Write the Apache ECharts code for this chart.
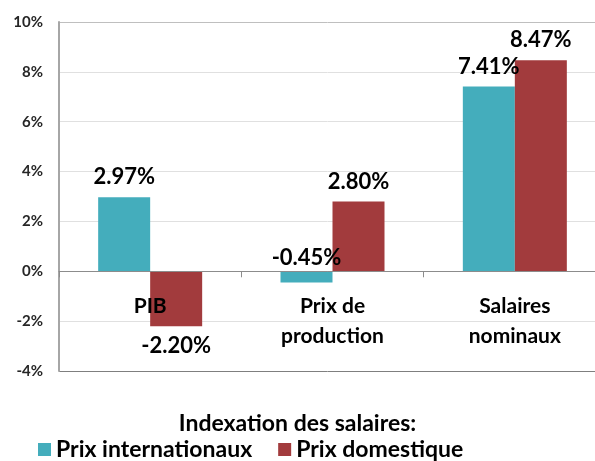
<!DOCTYPE html>
<html>
<head>
<meta charset="utf-8">
<script src="https://cdn.jsdelivr.net/npm/echarts@6/dist/echarts.min.js"></script>
<style>
  html, body { margin: 0; padding: 0; background: #fff; }
  #chart { width: 595px; height: 461px; }
</style>
</head>
<body>
<div id="chart"></div>
<script>
var categories = ['PIB', 'Prix de\nproduction', 'Salaires\nnominaux']
var seriesNames = ['Prix internationaux', 'Prix domestique']
var internationaux = [2.97, -0.45, 7.41]
var domestique = [-2.2, 2.8, 8.47]
var yTicks = [-4, -2, 0, 2, 4, 6, 8, 10]

var font = 'Lato, "Noto Sans", sans-serif'

// labels: big negatives go under the bar, small ones sit just above the zero line
function labelled(values) {
  return values.map(function (v) {
    if (v < -1) return { value: v, label: { position: 'bottom' } }
    if (v < 0) return { value: v, label: { position: 'top', distance: 2 } }
    return v
  })
}

var chart = echarts.init(document.getElementById('chart'))
chart.setOption({
  animation: false,
  color: ['#44ADBC', '#A23B3D'],
  textStyle: { fontFamily: font },
  title: {
    text: 'Indexation des salaires:',
    left: 'center',
    top: 407,
    textStyle: { fontFamily: font, fontSize: 23, fontWeight: 'bold', color: '#000' }
  },
  legend: {
    data: seriesNames,
    left: 33,
    top: 433,
    itemWidth: 13,
    itemHeight: 13,
    itemGap: 26,
    icon: 'rect',
    textStyle: { fontFamily: font, fontSize: 23, fontWeight: 'bold', color: '#000' }
  },
  grid: { left: 59, top: 22, width: 547, height: 349, outerBoundsMode: 'none' },
  xAxis: {
    type: 'category',
    data: categories,
    z: 10,
    axisLine: { onZero: true, lineStyle: { color: '#8c8c8c' } },
    axisTick: { show: true, length: 6, lineStyle: { color: '#8c8c8c' } },
    axisLabel: {
      margin: -80,
      fontFamily: font,
      fontSize: 21,
      fontWeight: 'bold',
      color: '#000',
      lineHeight: 30
    }
  },
  yAxis: {
    type: 'value',
    min: yTicks[0],
    max: yTicks[yTicks.length - 1],
    interval: 2,
    axisLine: { show: true, lineStyle: { color: '#a6a6a6', width: 2 } },
    axisTick: { show: false },
    axisLabel: {
      margin: 16,
      fontFamily: font,
      fontSize: 15,
      fontWeight: 'bold',
      color: '#262626',
      formatter: function (v) { return v + '%' }
    },
    splitLine: {
      lineStyle: {
        color: ['#7f7f7f', '#e0e0e0', '#e0e0e0', '#e0e0e0', '#e0e0e0', '#e0e0e0', '#e0e0e0', '#bfbfbf']
      }
    }
  },
  series: [
    {
      name: seriesNames[0],
      type: 'bar',
      barWidth: 52,
      barGap: '0%',
      data: labelled(internationaux),
      label: {
        show: true,
        position: 'top',
        distance: 9,
        fontFamily: font,
        fontSize: 22,
        fontWeight: 'bold',
        color: '#000',
        formatter: function (p) { return p.value.toFixed(2) + '%' }
      }
    },
    {
      name: seriesNames[1],
      type: 'bar',
      barWidth: 52,
      barGap: '0%',
      data: labelled(domestique),
      label: {
        show: true,
        position: 'top',
        distance: 9,
        fontFamily: font,
        fontSize: 22,
        fontWeight: 'bold',
        color: '#000',
        formatter: function (p) { return p.value.toFixed(2) + '%' }
      }
    }
  ]
})
</script>
</body>
</html>
